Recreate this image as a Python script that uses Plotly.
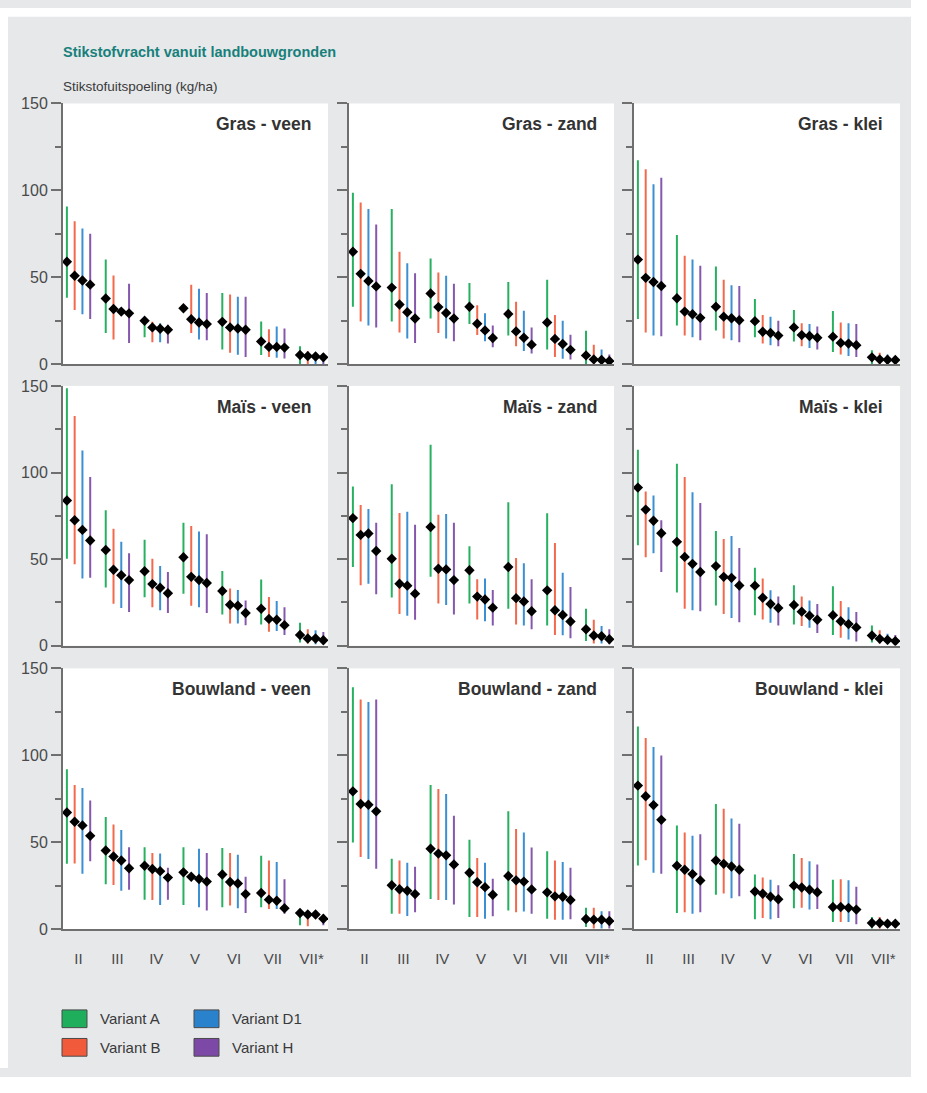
import plotly.graph_objects as go

# Figure sits at the page's top-left corner; kept slightly inside the window
# so the page never overflows (all content lies left of x=911).
W, H = 911, 1077

categories = ["II", "III", "IV", "V", "VI", "VII", "VII*"]
variants = ["Variant A", "Variant B", "Variant D1", "Variant H"]
colors = ["#27b060", "#f2694c", "#3b8fd2", "#8558ad"]
legend_colors = ["#1eae5c", "#f25a3c", "#2a82cc", "#7c4aa6"]
panel_titles = ["Gras - veen", "Gras - zand", "Gras - klei",
                "Maïs - veen", "Maïs - zand", "Maïs - klei",
                "Bouwland - veen", "Bouwland - zand", "Bouwland - klei"]
y_ticks = [0, 50, 100, 150]
y_minor = [25, 75, 125]

# rows: Variant A, B, D1, H ; columns: II .. VII*
gras_veen_mean = [[59.0, 37.8, 25.0, 32.2, 24.4, 13.1, 5.3],
                  [50.9, 31.8, 21.2, 25.9, 21.2, 10.0, 4.7],
                  [48.2, 30.3, 20.4, 24.0, 20.6, 10.0, 4.5],
                  [45.8, 29.3, 19.9, 23.1, 19.9, 9.6, 4.0]]
gras_veen_low = [[38.2, 18.0, 15.5, 32.2, 8.5, 5.3, 0.0],
                 [31.2, 14.2, 12.7, 18.0, 6.6, 4.2, 0.0],
                 [28.8, 30.3, 12.7, 14.2, 5.5, 3.8, 0.0],
                 [26.1, 12.3, 11.9, 13.8, 4.2, 3.4, 0.0]]
gras_veen_high = [[90.8, 60.2, 27.0, 32.2, 41.0, 24.6, 10.4],
                  [82.3, 51.1, 24.4, 45.8, 40.1, 20.2, 7.6],
                  [78.1, 30.3, 23.6, 43.5, 38.8, 21.8, 6.6],
                  [75.1, 46.3, 22.7, 41.0, 38.8, 20.6, 6.2]]

gras_zand_mean = [[64.7, 44.1, 40.7, 33.1, 28.9, 24.0, 5.1],
                  [52.0, 34.4, 32.9, 23.3, 18.9, 14.6, 2.8],
                  [47.9, 29.9, 29.5, 19.5, 15.3, 11.7, 2.5],
                  [44.8, 26.3, 26.3, 15.1, 11.3, 8.3, 1.9]]
gras_zand_low = [[33.1, 24.6, 26.3, 23.1, 16.6, 8.5, 0.0],
                 [24.6, 18.3, 18.0, 16.8, 10.4, 4.2, 0.0],
                 [22.3, 14.8, 14.8, 13.2, 7.6, 3.2, 0.0],
                 [21.2, 12.3, 13.2, 9.8, 6.2, 2.8, 0.0]]
gras_zand_high = [[98.7, 89.3, 60.9, 46.7, 47.3, 48.6, 19.3],
                  [93.1, 64.7, 52.8, 33.9, 35.9, 28.4, 11.2],
                  [89.3, 58.1, 50.9, 29.3, 30.8, 25.0, 8.5],
                  [80.4, 52.4, 46.3, 22.3, 21.2, 17.0, 5.7]]

gras_klei_mean = [[60.2, 38.0, 33.1, 24.8, 21.2, 15.9, 4.0],
                  [49.7, 30.3, 27.4, 18.7, 16.8, 12.3, 2.8],
                  [47.3, 28.8, 26.5, 18.0, 16.3, 11.9, 2.6],
                  [45.0, 26.7, 25.3, 16.5, 15.3, 11.0, 2.5]]
gras_klei_low = [[26.1, 22.3, 19.5, 15.5, 13.1, 7.0, 0.0],
                 [18.3, 16.6, 14.8, 11.9, 10.4, 5.7, 0.0],
                 [16.6, 15.5, 13.8, 11.0, 9.3, 4.7, 0.0],
                 [16.1, 13.8, 12.7, 10.4, 8.5, 4.2, 0.0]]
gras_klei_high = [[117.3, 74.3, 56.2, 37.5, 31.2, 30.6, 8.1],
                  [112.2, 62.4, 48.6, 28.4, 23.6, 24.0, 6.6],
                  [103.5, 60.2, 45.4, 27.4, 23.1, 23.6, 5.7],
                  [107.3, 56.7, 45.0, 25.0, 21.8, 23.1, 4.7]]

mais_veen_mean = [[83.9, 55.3, 43.0, 51.1, 31.6, 21.4, 6.2],
                  [72.5, 43.9, 35.6, 39.8, 23.7, 15.5, 4.2],
                  [66.9, 40.7, 33.5, 37.9, 23.1, 15.0, 4.2],
                  [60.8, 37.9, 30.3, 36.2, 18.9, 11.9, 3.2]]
mais_veen_low = [[50.2, 33.7, 28.0, 30.1, 18.0, 12.3, 1.9],
                 [47.0, 24.2, 22.2, 23.1, 12.9, 8.1, 1.3],
                 [38.8, 21.8, 20.5, 22.2, 12.9, 8.5, 0.9],
                 [39.2, 19.5, 18.9, 18.9, 11.9, 6.2, 0.9]]
mais_veen_high = [[148.7, 78.2, 61.2, 71.0, 43.2, 38.3, 13.3],
                  [132.6, 67.6, 50.2, 69.1, 33.1, 28.2, 9.5],
                  [112.7, 60.0, 46.0, 65.9, 32.2, 25.9, 8.9],
                  [97.5, 53.4, 42.6, 64.4, 26.1, 22.2, 8.0]]

mais_zand_mean = [[73.7, 50.2, 68.6, 43.6, 45.5, 32.0, 9.5],
                  [64.0, 35.8, 44.5, 28.4, 27.5, 20.5, 5.9],
                  [64.8, 34.7, 44.1, 26.7, 25.6, 17.8, 5.5],
                  [54.7, 30.1, 37.9, 22.0, 19.9, 14.0, 3.8]]
mais_zand_low = [[45.5, 27.8, 39.8, 24.4, 21.4, 11.7, 2.8],
                 [35.0, 18.4, 24.4, 15.2, 12.3, 6.2, 1.3],
                 [35.8, 17.4, 23.5, 14.2, 11.7, 6.1, 1.3],
                 [29.7, 15.0, 18.0, 11.7, 9.5, 4.4, 0.9]]
mais_zand_high = [[91.9, 93.2, 116.1, 57.4, 82.8, 76.5, 21.4],
                  [81.2, 76.7, 75.6, 38.4, 50.6, 59.3, 15.0],
                  [79.0, 77.3, 76.1, 38.8, 47.7, 42.2, 11.4],
                  [71.0, 69.9, 71.0, 32.2, 38.4, 33.9, 9.5]]

mais_klei_mean = [[91.3, 60.0, 46.0, 34.7, 23.5, 17.6, 5.9],
                  [78.6, 51.3, 39.8, 27.7, 19.7, 14.2, 4.0],
                  [72.2, 47.3, 39.2, 24.1, 17.4, 12.5, 3.4],
                  [65.0, 42.6, 34.8, 21.8, 15.0, 10.6, 2.7]]
mais_klei_low = [[58.1, 30.7, 23.3, 17.6, 12.3, 6.2, 1.9],
                 [51.1, 21.4, 18.4, 15.2, 11.4, 4.7, 1.3],
                 [53.4, 20.5, 16.1, 13.3, 10.4, 3.6, 0.9],
                 [42.6, 19.9, 13.6, 11.7, 7.4, 2.5, 0.6]]
mais_klei_high = [[113.1, 105.1, 66.3, 45.1, 35.0, 34.3, 11.7],
                  [89.0, 97.5, 61.6, 38.8, 28.4, 25.9, 8.9],
                  [86.7, 88.6, 63.4, 32.0, 26.1, 22.3, 7.0],
                  [72.5, 82.4, 56.4, 28.4, 24.1, 19.5, 6.2]]

bouw_veen_mean = [[67.1, 45.3, 36.5, 32.7, 31.5, 20.8, 9.3],
                  [61.8, 41.8, 34.6, 30.2, 27.2, 17.0, 8.5],
                  [59.7, 39.5, 33.4, 28.9, 26.3, 16.4, 8.5],
                  [53.7, 35.1, 29.7, 27.4, 20.2, 12.1, 6.0]]
bouw_veen_low = [[37.6, 25.9, 17.0, 14.0, 12.7, 12.7, 2.3],
                 [37.8, 25.5, 16.8, 30.2, 13.6, 11.7, 1.7],
                 [31.9, 22.1, 14.0, 12.7, 12.1, 11.7, 8.5],
                 [39.1, 22.7, 17.0, 10.8, 9.3, 8.9, 2.3]]
bouw_veen_high = [[92.0, 64.6, 47.2, 47.2, 46.7, 42.3, 11.3],
                  [82.9, 60.3, 43.8, 30.2, 43.8, 39.5, 10.8],
                  [81.2, 57.1, 43.5, 46.3, 42.9, 38.7, 8.5],
                  [74.1, 47.2, 35.3, 43.8, 30.2, 28.7, 8.5]]

bouw_zand_mean = [[79.3, 25.3, 46.3, 32.5, 30.6, 21.2, 5.9],
                  [72.0, 23.0, 43.5, 27.0, 28.1, 18.9, 5.5],
                  [71.6, 22.1, 42.5, 24.2, 27.4, 18.7, 5.5],
                  [67.8, 20.2, 37.2, 19.8, 22.9, 16.8, 4.7]]
bouw_zand_low = [[49.9, 8.9, 17.4, 7.0, 10.8, 6.0, 1.3],
                 [41.6, 8.9, 16.8, 7.0, 9.8, 5.5, 0.4],
                 [40.4, 7.6, 16.8, 6.0, 10.2, 5.5, 0.4],
                 [34.8, 9.8, 14.2, 7.4, 8.9, 5.7, 0.4]]
bouw_zand_high = [[139.2, 40.6, 82.9, 51.4, 67.8, 44.8, 12.3],
                  [132.1, 39.5, 80.7, 41.0, 57.6, 39.5, 12.3],
                  [130.7, 38.2, 77.8, 38.2, 55.7, 38.7, 10.4],
                  [132.1, 35.9, 65.2, 29.1, 47.0, 35.3, 10.4]]

bouw_klei_mean = [[82.6, 36.5, 39.5, 21.7, 25.1, 12.8, 3.6],
                  [76.5, 34.2, 37.6, 20.4, 24.0, 12.8, 3.6],
                  [71.4, 31.7, 36.1, 18.7, 22.7, 12.3, 3.2],
                  [62.9, 28.0, 34.2, 17.2, 21.3, 11.3, 3.2]]
bouw_klei_low = [[36.7, 9.3, 19.8, 5.7, 12.1, 4.2, 0.4],
                 [39.7, 9.8, 20.6, 6.4, 12.3, 4.2, 0.4],
                 [32.5, 8.9, 17.8, 5.7, 11.3, 4.2, 1.0],
                 [31.9, 9.8, 18.9, 6.4, 11.7, 2.8, 1.0]]
bouw_klei_high = [[116.6, 59.7, 72.0, 31.5, 43.3, 28.5, 7.0],
                  [110.0, 55.7, 69.3, 29.7, 41.0, 28.7, 7.0],
                  [104.8, 53.8, 63.7, 28.5, 39.1, 28.1, 4.7],
                  [99.9, 54.6, 60.6, 25.3, 37.2, 24.4, 4.5]]

panels = [
    (gras_veen_mean, gras_veen_low, gras_veen_high),
    (gras_zand_mean, gras_zand_low, gras_zand_high),
    (gras_klei_mean, gras_klei_low, gras_klei_high),
    (mais_veen_mean, mais_veen_low, mais_veen_high),
    (mais_zand_mean, mais_zand_low, mais_zand_high),
    (mais_klei_mean, mais_klei_low, mais_klei_high),
    (bouw_veen_mean, bouw_veen_low, bouw_veen_high),
    (bouw_zand_mean, bouw_zand_low, bouw_zand_high),
    (bouw_klei_mean, bouw_klei_low, bouw_klei_high),
]

# ---- layout geometry (pixels) ----
FONT = "Liberation Sans, Arial, Helvetica, sans-serif"
col_px = [(63, 328), (349, 614), (634, 900)]
row_px = [(97, 362), (384, 648), (671, 936)]
GROUP_STEP = 5
AXIS_COL = "#6f6f6f"
TEXT_COL = "#4a4a4a"


def px(x):
    return x / W


def py(y):
    return 1 - y / H


fig = go.Figure()
layout = dict(
    width=W, height=H, margin=dict(l=0, r=0, t=0, b=0),
    paper_bgcolor="#e6e8ea", plot_bgcolor="white", showlegend=False,
    font=dict(family=FONT, color=TEXT_COL),
)

annotations = []
shapes = [
    dict(type="rect", xref="paper", yref="paper", x0=0, x1=1, y0=py(9), y1=1,
         fillcolor="white", line=dict(width=0), layer="below"),
    dict(type="rect", xref="paper", yref="paper", x0=0, x1=px(8), y0=0, y1=1,
         fillcolor="white", line=dict(width=0), layer="below"),
]

tickpos = [g * GROUP_STEP + 1.5 for g in range(len(categories))]

for i, (means, lows, highs) in enumerate(panels):
    n = i + 1
    r, c = divmod(i, 3)
    xa = "x" if n == 1 else f"x{n}"
    ya = "y" if n == 1 else f"y{n}"
    for v, name in enumerate(variants):
        xs = [g * GROUP_STEP + v for g in range(len(categories))]
        m = means[v]
        up = [h - mm for h, mm in zip(highs[v], m)]
        dn = [mm - lo for mm, lo in zip(m, lows[v])]
        fig.add_trace(go.Scatter(
            x=xs, y=m, mode="markers", name=name, xaxis=xa, yaxis=ya,
            marker=dict(symbol="diamond", size=8, color="black"),
            error_y=dict(type="data", symmetric=False, array=up, arrayminus=dn,
                         color=colors[v], thickness=2, width=0),
        ))
    x0, x1 = col_px[c]
    y0, y1 = row_px[r]
    layout[f"xaxis{'' if n == 1 else n}"] = dict(
        domain=[px(x0), px(x1)], range=[-0.5, 33.6], anchor=ya,
        showgrid=False, zeroline=False, showline=True, linecolor=AXIS_COL,
        linewidth=2, tickvals=tickpos, ticktext=categories,
        ticks="outside", ticklen=15, tickcolor="rgba(0,0,0,0)",
        showticklabels=(r == 2), tickfont=dict(size=15, color=TEXT_COL, family=FONT),
    )
    layout[f"yaxis{'' if n == 1 else n}"] = dict(
        domain=[py(y1), py(y0)], range=[0, 150], anchor=xa,
        showgrid=False, zeroline=False, showline=True, linecolor=AXIS_COL,
        linewidth=2, tickvals=y_ticks, ticks="outside", ticklen=10,
        tickcolor=AXIS_COL, tickwidth=1.5,
        minor=dict(tickvals=y_minor, ticks="outside", ticklen=6,
                   tickcolor=AXIS_COL, tickwidth=1.5, showgrid=False),
        showticklabels=(c == 0), tickfont=dict(size=16, color=TEXT_COL, family=FONT),
    )
    annotations.append(dict(
        text=f"<b>{panel_titles[i]}</b>", xref=f"{xa} domain", yref=f"{ya} domain",
        x=0.942, y=1 - 21 / 265, xanchor="right", yanchor="middle", showarrow=False,
        font=dict(size=17.5, color="#333333", family=FONT),
    ))

annotations.append(dict(
    text="<b>Stikstofvracht vanuit landbouwgronden</b>", xref="paper", yref="paper",
    x=px(61), y=py(45), xanchor="left", yanchor="middle", showarrow=False,
    font=dict(size=14.5, color="#17807b", family=FONT),
))
annotations.append(dict(
    text="Stikstofuitspoeling (kg/ha)", xref="paper", yref="paper",
    x=px(61), y=py(80), xanchor="left", yanchor="middle", showarrow=False,
    font=dict(size=13.5, color="#3a3a3a", family=FONT),
))

# legend (boxes + labels)
leg_pos = [(62, 1018), (62, 1047), (194, 1018), (194, 1047)]
for (lx, ly), name, col in zip(leg_pos, variants, legend_colors):
    shapes.append(dict(type="rect", xref="paper", yref="paper",
                       x0=px(lx), x1=px(lx + 25), y0=py(ly + 18), y1=py(ly),
                       fillcolor=col, line=dict(color="#4a4a4a", width=1)))
    annotations.append(dict(
        text=name, xref="paper", yref="paper", x=px(lx + 36), y=py(ly + 9),
        xanchor="left", yanchor="middle", showarrow=False,
        font=dict(size=15, color="#3a3a3a", family=FONT),
    ))

layout["annotations"] = annotations
layout["shapes"] = shapes
fig.update_layout(**layout)
fig.write_html("out.html")
